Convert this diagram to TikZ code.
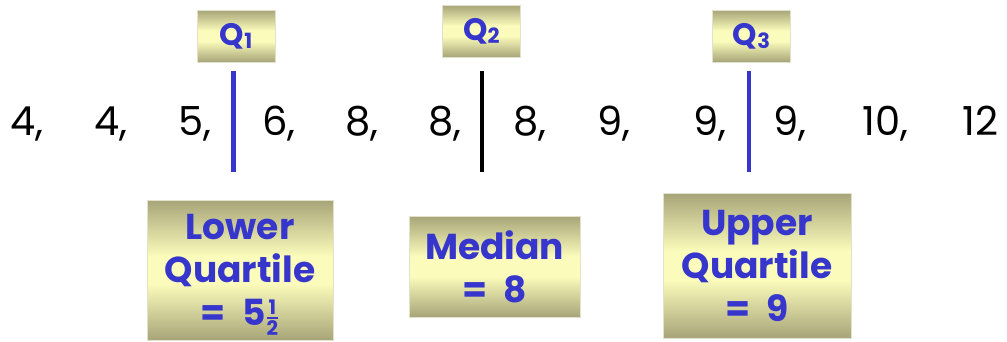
\documentclass[tikz,border=0pt]{standalone}
\usepackage{amsmath}
\usepackage{fontspec}
\setmainfont{Poppins}
\definecolor{qblue}{RGB}{54,54,204}
\definecolor{boxdark}{RGB}{167,165,120}
\definecolor{boxlight}{RGB}{251,251,187}
\definecolor{boxedge}{RGB}{225,225,205}
\pgfdeclareverticalshading{boxshade}{100bp}{color(0bp)=(boxdark); color(25bp)=(boxdark); color(45bp)=(boxlight); color(55bp)=(boxlight); color(75bp)=(boxdark); color(100bp)=(boxdark)}
\newcommand{\halfstack}{\smash{\raisebox{0.05em}{\ensuremath{\genfrac{}{}{1.8pt}{}{\mbox{\fontsize{20}{20}\selectfont\bfseries 1}}{\mbox{\fontsize{20}{20}\selectfont\bfseries 2}}}}}}
\newcommand{\qsub}[1]{Q\raisebox{-0.12em}{\fontsize{21}{21}\selectfont #1}}
\begin{document}
\begin{tikzpicture}[x=1pt,y=-1pt,
  gbox/.style={draw=boxedge,line width=0.8pt,shading=boxshade,
    inner sep=0pt,text=qblue,font=\bfseries\fontsize{36}{43}\selectfont,align=center},
  qbox/.style={gbox,minimum width=78pt,minimum height=52pt,font=\bfseries\fontsize{31}{31}\selectfont},
  num/.style={anchor=base west,inner sep=0pt,font=\fontsize{40}{40}\selectfont},
  qline/.style={line width=4.5pt,draw=qblue},
  mline/.style={line width=4.5pt,draw=black}]
\useasboundingbox (0,0) rectangle (1007,341);
% quartile tags
\node[qbox] (q1) at (236,36) {\qsub{1}};
\node[qbox] (q2) at (481.5,31) {\qsub{2}};
\node[qbox] (q3) at (751.5,36) {\qsub{3}};
% dividing lines
\coordinate (l1t) at (233.5,71); \coordinate (l1b) at (233.5,172);
\coordinate (l2t) at (482,71);   \coordinate (l2b) at (482,172);
\coordinate (l3t) at (749,71);   \coordinate (l3b) at (749,172);
\draw[qline] (l1t) -- (l1b);
\draw[mline] (l2t) -- (l2b);
\draw[qline] (l3t) -- (l3b);
% data
\node[num] (n1) at (10,135) {4,};
\node[num] (n2) at (94,135) {4,};
\node[num] (n3) at (178,135) {5,};
\node[num] (n4) at (262,135) {6,};
\node[num] (n5) at (345,135) {8,};
\node[num] (n6) at (428,135) {8,};
\node[num] (n7) at (513,135) {8,};
\node[num] (n8) at (597,135) {9,};
\node[num] (n9) at (693,135) {9,};
\node[num] (n10) at (773,135) {9,};
\node[num] (n11) at (862,135) {10,};
\node[num] (n12) at (962,135) {12};
% result boxes
\node[gbox,minimum width=186pt,minimum height=140pt] (lq) at (240,270) {Lower\\Quartile\\=\hspace{0.45em}5\halfstack};
\node[gbox,minimum width=171pt,minimum height=101pt] (md) at (494.5,266.5) {Median\\=\hspace{0.45em}8};
\node[gbox,minimum width=188pt,minimum height=145pt] (uq) at (757,265.5) {Upper\\Quartile\\=\hspace{0.45em}9};
\end{tikzpicture}
\end{document}
